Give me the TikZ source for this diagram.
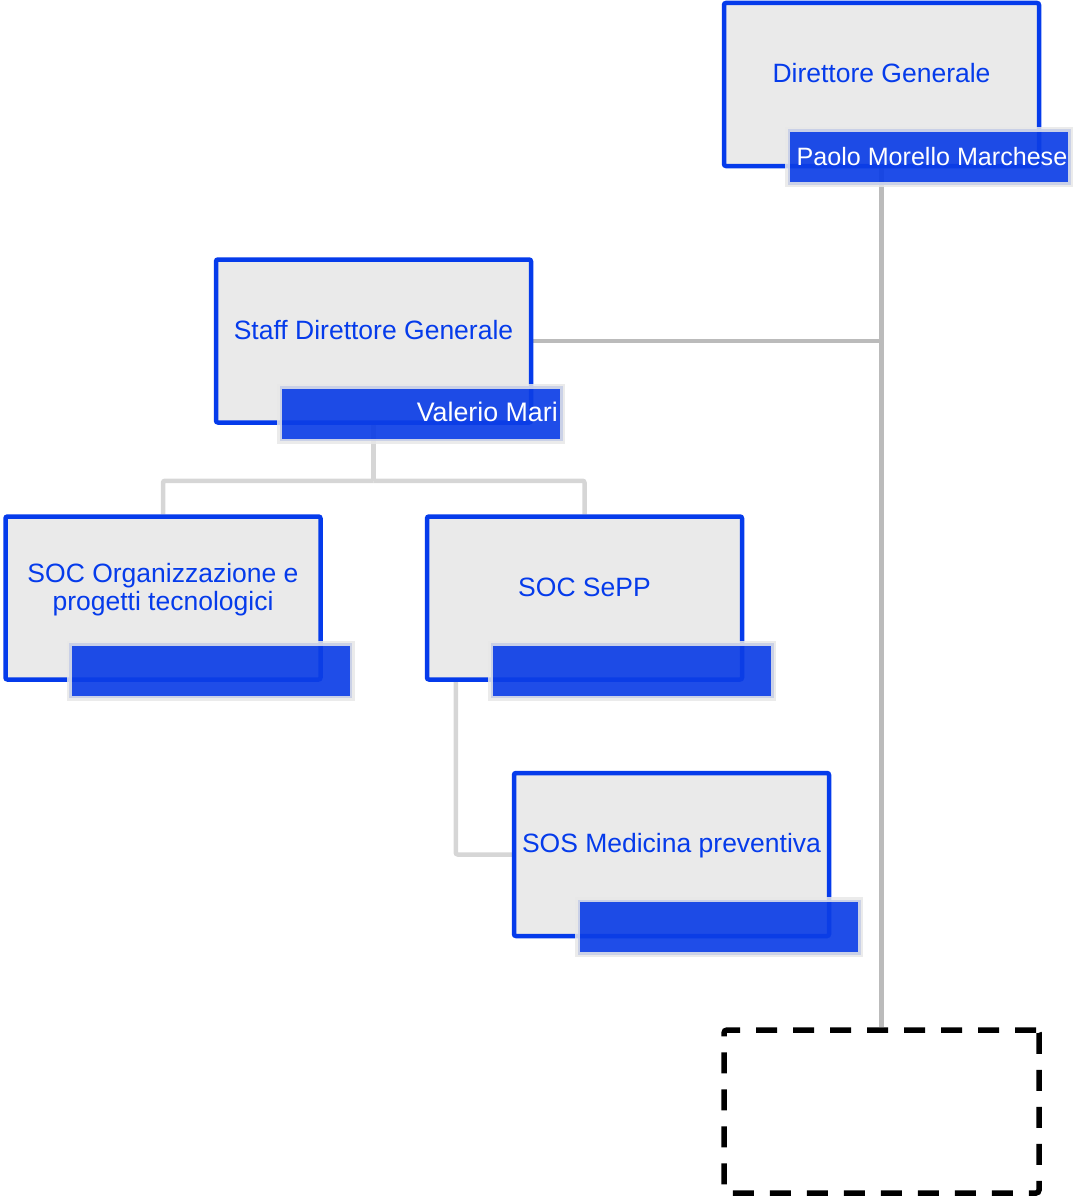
\documentclass[tikz,border=0pt]{standalone}
\usepackage{fontspec}
\setmainfont{Liberation Sans}
\usetikzlibrary{backgrounds}
\definecolor{boxblue}{RGB}{5,59,235}
\definecolor{barblue}{RGB}{12,62,230}
\definecolor{boxfill}{RGB}{234,234,234}
\definecolor{barline}{RGB}{232,232,232}
\definecolor{darkconn}{RGB}{187,187,187}
\definecolor{lightconn}{RGB}{214,214,214}
\begin{document}
\begin{tikzpicture}[x=1pt,y=-1pt,
  unitbox/.style={draw=boxblue, line width=4.5pt, fill=boxfill, minimum width=315pt, minimum height=163pt, rounded corners=2pt, inner sep=0pt},
  namebar/.style={draw=barline, draw opacity=0.85, line width=5pt, fill=barblue, fill opacity=0.92, minimum width=283pt, minimum height=55pt, inner sep=0pt},
  unittext/.style={text=boxblue, font=\fontsize{26.5}{28}\selectfont, inner sep=0pt, text height=19pt, text depth=5.5pt, yshift=8.5pt},
  unittwo/.style={text=boxblue, font=\fontsize{26.5}{28}\selectfont, inner sep=0pt, align=center, yshift=8.5pt},
  nametext/.style={text=white, font=\fontsize{26.8}{28}\selectfont, inner sep=0pt, text height=19pt, text depth=5.5pt, anchor=east, yshift=-1.5pt},
  darkline/.style={draw=darkconn, line width=4.5pt},
  lightline/.style={draw=lightconn, line width=4.5pt, rounded corners=2pt},
  vacant/.style={draw=black, line width=5.5pt, dash pattern=on 21pt off 16pt, minimum width=315pt, minimum height=163pt, rounded corners=3pt, inner sep=0pt}
]
\useasboundingbox (0,0) rectangle (1075,1204);

% unit boxes
\node[unitbox] (b1) at (881.5,84.5) {};
\node[unitbox] (b2) at (373.5,341) {};
\node[unitbox] (b3) at (163,598) {};
\node[unitbox] (b4) at (584.5,598) {};
\node[unitbox] (b5) at (671.5,854.5) {};
\node[vacant] (vac) at (881.5,1111.5) {};

% unit titles
\node[unittext] (t1) at (b1.center) {Direttore Generale};
\node[unittext] (t2) at (b2.center) {Staff Direttore Generale};
\node[unittwo] (t3) at (b3.center) {SOC Organizzazione e\\progetti tecnologici};
\node[unittext] (t4) at (b4.center) {SOC SePP};
\node[unittext] (t5) at (b5.center) {SOS Medicina preventiva};

% name bars
\node[namebar] (n1) at (929,157) {};
\node[namebar] (n2) at (421,413.5) {};
\node[namebar] (n3) at (210.5,670.5) {};
\node[namebar] (n4) at (632,670.5) {};
\node[namebar] (n5) at (719,927) {};

\node[nametext, font=\fontsize{25.1}{28}\selectfont] (p1) at ([xshift=-5.5pt]n1.east) {Paolo Morello Marchese};
\node[nametext] (p2) at ([xshift=-7pt]n2.east) {Valerio Mari};

% connectors
\begin{pgfonlayer}{background}
  \draw[darkline] (b1.south) -- (vac.north);
  \draw[darkline] (b2.east) -- (b2.east -| b1.south);
  \draw[lightline] (b2.south) -- ++(0,56) coordinate (j2);
  \draw[lightline] (j2) -| (b3.north);
  \draw[lightline] (j2) -| (b4.north);
  \draw[lightline] ([xshift=31pt]b4.south west) |- (b5.west);
\end{pgfonlayer}
\end{tikzpicture}
\end{document}
